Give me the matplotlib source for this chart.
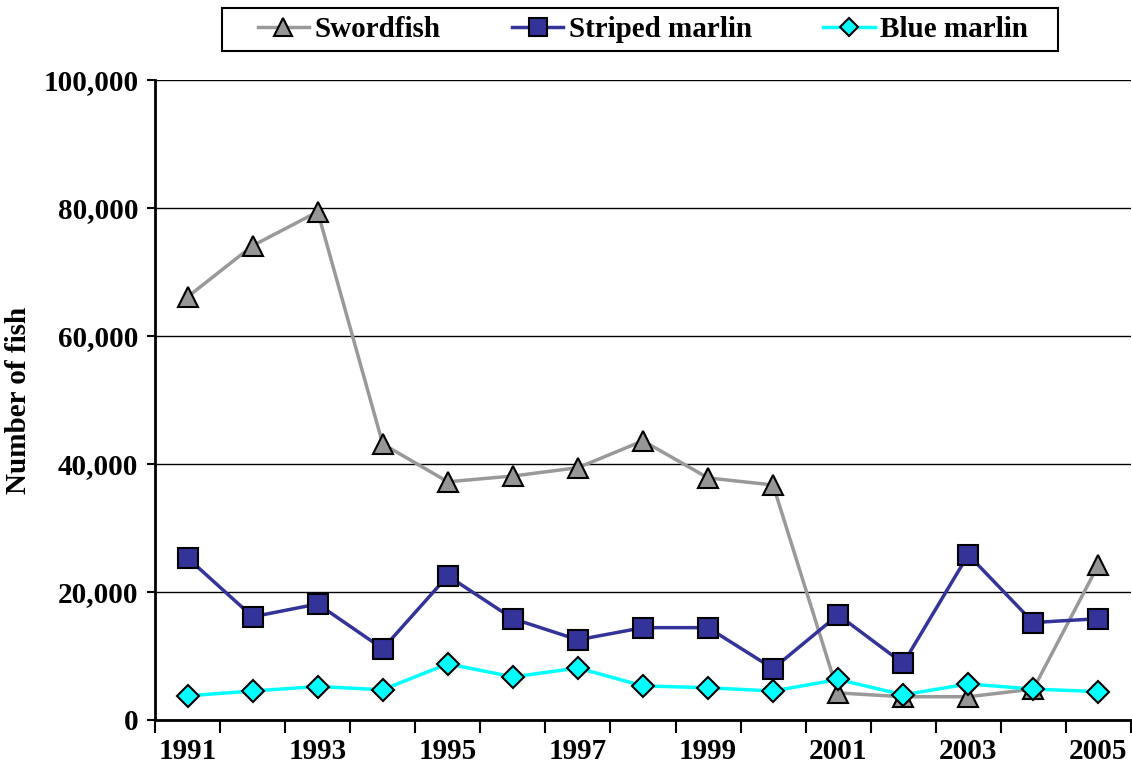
import matplotlib.pyplot as plt
from matplotlib.patches import Rectangle
from matplotlib.ticker import FuncFormatter

years = list(range(1991, 2006))
swordfish = [66100, 74100, 79400, 43100, 37200, 38100, 39400, 43600, 37800, 36700, 4200, 3600, 3600, 4800, 24200]
striped_marlin = [25300, 16100, 18100, 11100, 22500, 15800, 12500, 14400, 14400, 8000, 16400, 8800, 25800, 15200, 15800]
blue_marlin = [3750, 4500, 5200, 4700, 8750, 6700, 8100, 5300, 5000, 4500, 6300, 3900, 5600, 4800, 4400]

plt.rcParams['font.family'] = ['Liberation Serif', 'DejaVu Serif']
plt.rcParams['font.weight'] = 'bold'

fig = plt.figure(figsize=(11.32, 7.69), dpi=100)
ax = fig.add_axes([0.137, 0.064, 0.862, 0.832])

x = list(range(len(years)))
ax.plot(x, swordfish, color='#999999', lw=2.5, marker='^', ms=15,
        mfc='#969696', mec='black', mew=1.5, label='Swordfish', zorder=3)
ax.plot(x, striped_marlin, color='#333399', lw=2.5, marker='s', ms=15,
        mfc='#333399', mec='black', mew=1.5, label='Striped marlin', zorder=4)
ax.plot(x, blue_marlin, color='#00FFFF', lw=2.5, marker='D', ms=11,
        mfc='#00FFFF', mec='black', mew=1.5, label='Blue marlin', zorder=5)

ax.set_xlim(-0.5, len(years) - 0.5)
ax.set_ylim(0, 100000)
ax.set_yticks(range(0, 100001, 20000))
ax.yaxis.set_major_formatter(FuncFormatter(lambda v, p: f'{int(v):,}'))
ax.grid(axis='y', color='black', lw=1)
ax.set_axisbelow(True)

ax.set_xticks([i for i, y in enumerate(years) if y % 2 == 1])
ax.set_xticklabels([str(y) for y in years if y % 2 == 1])
ax.set_xticks([i - 0.5 for i in range(len(years) + 1)], minor=True)
ax.tick_params(axis='x', which='major', length=0, pad=13, labelsize=21)
ax.tick_params(axis='x', which='minor', length=9, width=1.5, direction='out')
ax.tick_params(axis='y', length=6, width=1.5, direction='out', labelsize=21, pad=6)

for s in ['top', 'right']:
    ax.spines[s].set_visible(False)
ax.spines['left'].set_linewidth(2)
ax.spines['bottom'].set_linewidth(2)

ax.set_ylabel('Number of fish', fontsize=21, fontweight='bold', labelpad=8)

# legend box drawn separately, wider than the entries like in the original
fig.patches.append(Rectangle((0.196, 0.9337), 0.7385, 0.0559, transform=fig.transFigure,
                             facecolor='white', edgecolor='black', lw=1.5, zorder=1))
leg = fig.legend(loc='center', bbox_to_anchor=(0.568, 0.962), ncol=3, fontsize=21,
                 frameon=False, borderpad=0.3,
                 columnspacing=2.45, handlelength=1.75, handletextpad=0.2, markerscale=0.85)
leg.set_zorder(2)

fig.savefig('out.png', dpi=100)
